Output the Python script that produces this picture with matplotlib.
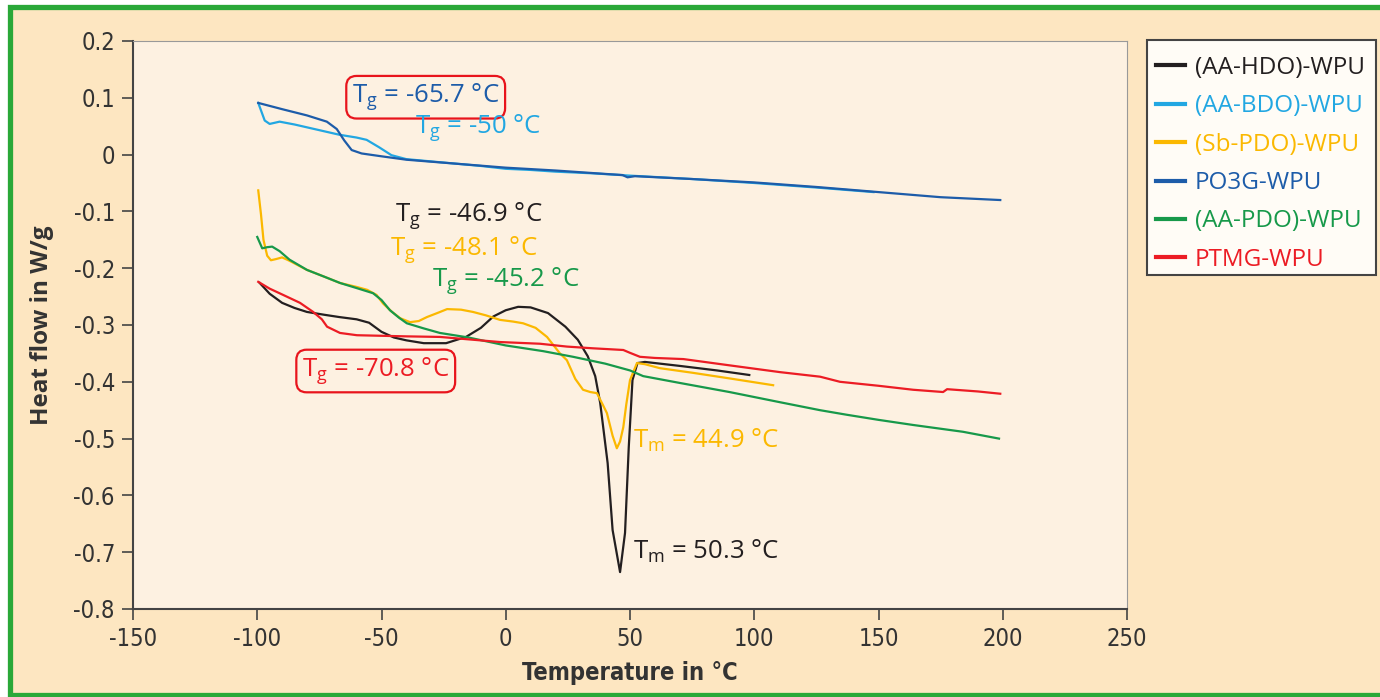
import matplotlib
matplotlib.use("Agg")
import matplotlib.pyplot as plt
from matplotlib.patches import Rectangle

# ---------------- data ----------------
hdo_x = [-99, -95, -90, -85, -80, -73, -67, -60, -55, -50, -45, -40, -33, -24, -16, -10, -5, 0, 5, 10, 17, 24, 29, 33, 36, 38, 41, 43, 46, 48, 49.5, 51, 53, 56, 70, 85, 98]
hdo_y = [-0.226, -0.245, -0.261, -0.270, -0.277, -0.282, -0.286, -0.290, -0.296, -0.312, -0.322, -0.327, -0.332, -0.332, -0.321, -0.305, -0.285, -0.274, -0.268, -0.269, -0.279, -0.303, -0.326, -0.355, -0.390, -0.437, -0.543, -0.661, -0.735, -0.666, -0.515, -0.397, -0.367, -0.365, -0.372, -0.380, -0.388]

bdo_x = [-99.6, -97, -95, -91, -85, -80, -73, -67, -60, -56, -51, -46, -40, -30, -20, -10, 0, 10, 20, 35, 50, 75, 100, 125, 148]
bdo_y = [0.091, 0.060, 0.054, 0.058, 0.053, 0.048, 0.041, 0.035, 0.030, 0.026, 0.013, -0.001, -0.008, -0.012, -0.016, -0.020, -0.025, -0.027, -0.030, -0.033, -0.037, -0.043, -0.050, -0.058, -0.066]

sb_x = [-99.6, -98.5, -97.5, -96, -94.5, -92.5, -90, -87, -80, -73, -66.7, -60, -55.8, -52, -49.4, -46, -42.5, -38.5, -35, -31.7, -27, -23.6, -18, -13.2, -8, -2.3, 3, 7, 12, 16.6, 21.8, 24.6, 28, 31.1, 34, 36.7, 39, 40.7, 43, 44.7, 46, 47.3, 48.5, 50, 52.8, 56, 62, 75, 90, 107.6]
sb_y = [-0.063, -0.105, -0.150, -0.178, -0.186, -0.184, -0.181, -0.187, -0.203, -0.215, -0.226, -0.233, -0.238, -0.247, -0.262, -0.276, -0.288, -0.295, -0.293, -0.286, -0.278, -0.272, -0.273, -0.277, -0.283, -0.291, -0.294, -0.297, -0.305, -0.321, -0.350, -0.362, -0.395, -0.414, -0.418, -0.420, -0.440, -0.455, -0.495, -0.517, -0.505, -0.480, -0.440, -0.397, -0.367, -0.369, -0.376, -0.384, -0.394, -0.406]

po3g_x = [-99.6, -90, -80, -72, -68, -65, -62, -58, -50, -40, -20, 0, 20, 40, 47, 49, 52, 75, 100, 125, 150, 175, 199]
po3g_y = [0.091, 0.080, 0.069, 0.058, 0.045, 0.025, 0.008, 0.002, -0.003, -0.009, -0.016, -0.023, -0.028, -0.034, -0.036, -0.040, -0.038, -0.043, -0.049, -0.057, -0.066, -0.075, -0.080]

pdo_x = [-100, -98, -96, -94, -91, -87, -80, -73, -66.7, -60, -53.4, -50, -46.6, -43, -39.8, -33, -26.5, -15, 0, 15, 27.1, 40, 50, 55.3, 70, 90, 110.4, 126.5, 137.2, 150, 163.9, 184, 198.5]
pdo_y = [-0.145, -0.165, -0.163, -0.162, -0.170, -0.185, -0.203, -0.215, -0.226, -0.235, -0.244, -0.256, -0.274, -0.287, -0.297, -0.306, -0.314, -0.322, -0.336, -0.346, -0.356, -0.368, -0.380, -0.390, -0.402, -0.418, -0.436, -0.450, -0.458, -0.467, -0.476, -0.488, -0.500]

ptmg_x = [-99.6, -95, -89.6, -82.8, -77.5, -74, -71.9, -66.7, -59.9, -40, -26.5, -2.3, 13.8, 24.6, 35, 47.3, 50, 54, 60, 71.5, 90, 110.4, 126.5, 134.5, 150, 163.9, 176, 177.6, 190, 199]
ptmg_y = [-0.224, -0.236, -0.247, -0.261, -0.277, -0.290, -0.303, -0.314, -0.318, -0.320, -0.321, -0.330, -0.333, -0.338, -0.341, -0.344, -0.349, -0.356, -0.358, -0.360, -0.371, -0.383, -0.391, -0.400, -0.407, -0.414, -0.418, -0.413, -0.417, -0.421]

labels = ["(AA-HDO)-WPU", "(AA-BDO)-WPU", "(Sb-PDO)-WPU", "PO3G-WPU", "(AA-PDO)-WPU", "PTMG-WPU"]
colors = ["#231f20", "#22a7e2", "#fbb800", "#1d5ca9", "#17994a", "#ec1c24"]

x_ticks = [-150, -100, -50, 0, 50, 100, 150, 200, 250]
x_tick_labels = ["-150", "-100", "-50", "0", "50", "100", "150", "200", "250"]
y_ticks = [0.2, 0.1, 0, -0.1, -0.2, -0.3, -0.4, -0.5, -0.6, -0.7, -0.8]
y_tick_labels = ["0.2", "0.1", "0", "-0.1", "-0.2", "-0.3", "-0.4", "-0.5", "-0.6", "-0.7", "-0.8"]

# annotations: (text, x, y, color, boxed)
annots = [
    (r"T$_\mathregular{g}$ = -65.7 °C", -61.9, 0.101, "#1d5ca9", True),
    (r"T$_\mathregular{g}$ = -50 °C", -36.4, 0.047, "#22a7e2", False),
    (r"T$_\mathregular{g}$ = -46.9 °C", -44.5, -0.108, "#231f20", False),
    (r"T$_\mathregular{g}$ = -48.1 °C", -46.5, -0.168, "#fbb800", False),
    (r"T$_\mathregular{g}$ = -45.2 °C", -29.7, -0.224, "#17994a", False),
    (r"T$_\mathregular{g}$ = -70.8 °C", -82.0, -0.381, "#ec1c24", True),
    (r"T$_\mathregular{m}$ = 44.9 °C", 51.2, -0.503, "#fbb800", False),
    (r"T$_\mathregular{m}$ = 50.3 °C", 51.2, -0.698, "#231f20", False),
]

# ---------------- fonts ----------------
main_font = "Open Sans"
plt.rcParams['font.family'] = [main_font, 'DejaVu Sans']
plt.rcParams['mathtext.fontset'] = 'custom'
plt.rcParams['mathtext.rm'] = main_font
plt.rcParams['axes.unicode_minus'] = False

W, H = 1380, 697
fig = plt.figure(figsize=(W / 100, H / 100), dpi=100, facecolor="white")

# outer frame
fig.patches.append(Rectangle((9.5 / W, 2.0 / H), (W + 20) / W, (H - 6.5 - 2.0) / H,
                             transform=fig.transFigure, facecolor="#fde6c1",
                             edgecolor="#2aa838", linewidth=3.8, zorder=-10))
# legend frame
fig.patches.append(Rectangle((1147 / W, 1 - 275 / H), (1376 - 1147) / W, (275 - 40) / H,
                             transform=fig.transFigure, facecolor="#fffcf6",
                             edgecolor="#444444", linewidth=1.5, zorder=-5))

ax = fig.add_axes([133 / W, 88 / H, (1127 - 133) / W, (609 - 41) / H])
ax.set_facecolor("#fdf1e1")

series = [(hdo_x, hdo_y), (bdo_x, bdo_y), (sb_x, sb_y), (po3g_x, po3g_y), (pdo_x, pdo_y), (ptmg_x, ptmg_y)]
for (xs, ys), lab, col in zip(series, labels, colors):
    ax.plot(xs, ys, color=col, lw=1.6, label=lab, solid_joinstyle='round')

ax.set_xlim(-150, 250)
ax.set_ylim(-0.8, 0.2)
ax.set_xticks(x_ticks)
ax.set_xticklabels(x_tick_labels)
ax.set_yticks(y_ticks)
ax.set_yticklabels(y_tick_labels)
for lab in ax.get_xticklabels() + ax.get_yticklabels():
    lab.set_fontfamily(['DejaVu Sans'])
    lab.set_fontstretch('condensed')
    lab.set_fontsize(17)
    lab.set_color("#333333")
ax.tick_params(direction='out', length=8, width=1.2, color="#444444", pad=5)

for s in ["left", "bottom"]:
    ax.spines[s].set_color("#444444")
    ax.spines[s].set_linewidth(1.5)
for s in ["top", "right"]:
    ax.spines[s].set_color("#999999")
    ax.spines[s].set_linewidth(0.8)

ax.set_xlabel("Temperature in °C", fontsize=17, fontweight='bold', color="#333333",
              fontfamily=['DejaVu Sans'], fontstretch='condensed', labelpad=7)
ax.set_ylabel("Heat flow in W/g", fontsize=17.5, fontweight='bold', color="#333333", labelpad=14)

for txt, x, y, col, boxed in annots:
    kw = {}
    if boxed:
        kw['bbox'] = dict(boxstyle='round,pad=0.22,rounding_size=0.4', fc='none', ec='#e8141c', lw=1.6)
    ax.text(x, y, txt, color=col, fontsize=18.5, ha='left', va='center', **kw)

leg = ax.legend(loc='upper left', bbox_to_anchor=(1156 / W, 1 - 56 / H), bbox_transform=fig.transFigure,
                fontsize=17.5, frameon=False, borderaxespad=0, handlelength=1.2,
                handletextpad=0.4, labelspacing=0.59, borderpad=0.0, labelcolor='linecolor')
for h in leg.get_lines():
    h.set_linewidth(3)

fig.savefig("out.png", dpi=100, facecolor=fig.get_facecolor())
